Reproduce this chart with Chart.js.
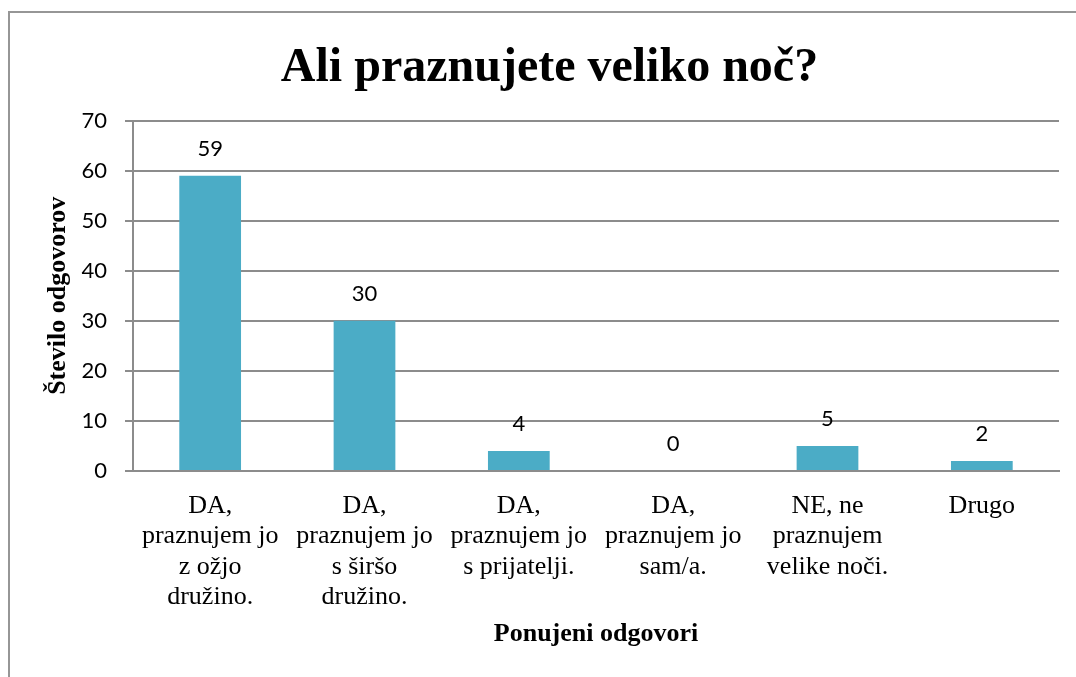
<!DOCTYPE html>
<html>
<head>
<meta charset="utf-8">
<script src="https://cdn.jsdelivr.net/npm/chart.js@4"></script>
<style>
  html, body { margin: 0; padding: 0; background: #fff; overflow: hidden; }
  #frame { position: absolute; left: 8px; top: 11px; width: 1100px; height: 700px; border: 2px solid #969696; box-sizing: border-box; }
  #wrap { position: absolute; left: 0; top: 0; width: 1076px; height: 677px; }
</style>
</head>
<body>
<div id="frame"></div>
<div id="wrap"><canvas id="chart" width="1076" height="677"></canvas></div>
<script>
// Data
const categories = [
    ['DA,', 'praznujem jo', 'z ožjo', 'družino.'],
    ['DA,', 'praznujem jo', 's širšo', 'družino.'],
    ['DA,', 'praznujem jo', 's prijatelji.'],
    ['DA,', 'praznujem jo', 'sam/a.'],
    ['NE, ne', 'praznujem', 'velike noči.'],
    ['Drugo']
];
const answerCounts = [59, 30, 4, 0, 5, 2];
const yTicks = [0, 10, 20, 30, 40, 50, 60, 70];

const serif = '"Liberation Serif", "Times New Roman", serif';
const sans = 'Lato, "Liberation Sans", sans-serif';
const gridColor = '#8c8c8c';

// value labels above bars
const barLabels = {
    id: 'barLabels',
    afterDatasetsDraw(chart) {
        const ctx = chart.ctx;
        const meta = chart.getDatasetMeta(0);
        ctx.save();
        ctx.font = '22px ' + sans;
        ctx.fillStyle = '#000';
        ctx.textAlign = 'center';
        ctx.textBaseline = 'middle';
        meta.data.forEach((bar, i) => {
            ctx.fillText(String(answerCounts[i]), bar.x, bar.y - 27);
        });
        ctx.restore();
    }
};

new Chart(document.getElementById('chart').getContext('2d'), {
    type: 'bar',
    data: {
        labels: categories,
        datasets: [{
            label: 'Število odgovorov',
            data: answerCounts,
            backgroundColor: '#4bacc6',
            borderWidth: 0,
            categoryPercentage: 1,
            barPercentage: 0.4
        }]
    },
    options: {
        responsive: false,
        animation: false,
        layout: { padding: { left: 40, right: 17, top: 10, bottom: 27 } },
        plugins: {
            legend: { display: false },
            tooltip: { enabled: false },
            title: {
                display: true,
                text: 'Ali praznujete veliko noč?',
                color: '#000',
                font: { family: serif, size: 48, weight: 'bold' },
                padding: { top: 30, bottom: 23 }
            }
        },
        scales: {
            x: {
                afterFit: (axis) => { axis.height = 179; },
                grid: { display: false },
                border: { display: true, color: gridColor, width: 2 },
                ticks: {
                    color: '#000',
                    font: { family: serif, size: 26, lineHeight: 1.17 },
                    maxRotation: 0,
                    autoSkip: false,
                    padding: 12
                },
                title: {
                    display: true,
                    text: 'Ponujeni odgovori',
                    color: '#000',
                    font: { family: serif, size: 26, weight: 'bold' },
                    padding: { top: 7, bottom: 0 }
                }
            },
            y: {
                min: 0,
                max: 70,
                afterBuildTicks: (axis) => { axis.ticks = yTicks.map(v => ({ value: v })); },
                afterFit: (axis) => { axis.width = 93; },
                grid: { color: gridColor, lineWidth: 2, tickLength: 8 },
                border: { display: true, color: gridColor, width: 2 },
                ticks: {
                    color: '#000',
                    font: { family: sans, size: 22 },
                    padding: 18
                },
                title: {
                    display: true,
                    text: 'Število odgovorov',
                    color: '#000',
                    font: { family: serif, size: 26, weight: 'bold' },
                    padding: { top: 3, bottom: 0 }
                }
            }
        }
    },
    plugins: [barLabels]
});
</script>
</body>
</html>
